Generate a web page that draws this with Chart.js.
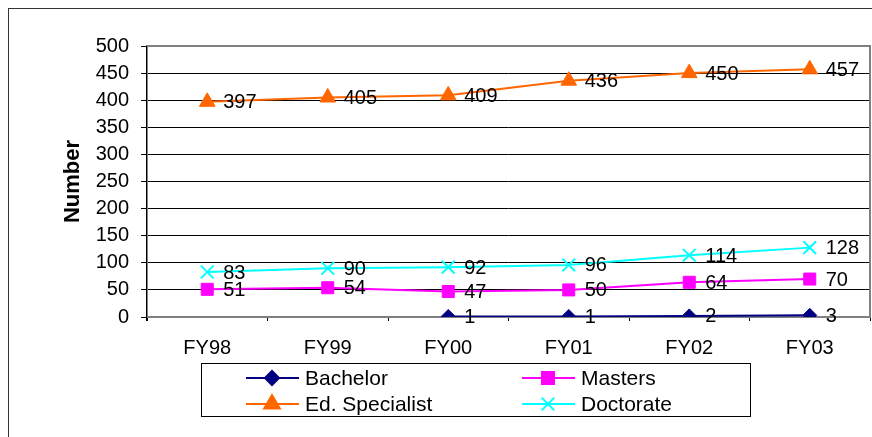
<!DOCTYPE html>
<html>
<head>
<meta charset="utf-8">
<script src="https://cdn.jsdelivr.net/npm/chart.js"></script>
<style>
	html, body { margin: 0; padding: 0; background: #fff; overflow: hidden; }
	canvas { display: block; }
</style>
</head>
<body>
<canvas id="chart_degrees" width="881" height="437"></canvas>
<script>
var years = ['FY98', 'FY99', 'FY00', 'FY01', 'FY02', 'FY03'];
var bachelor = [null, null, 1, 1, 2, 3];
var masters = [51, 54, 47, 50, 64, 70];
var edSpecialist = [397, 405, 409, 436, 450, 457];
var doctorate = [83, 90, 92, 96, 114, 128];

var FONT = "'Liberation Sans', Arial, sans-serif";

// values written to the right of each point
var valueLabels = {
	id: 'valueLabels',
	afterDatasetsDraw: function(chart){
		var ctx = chart.ctx;
		ctx.save();
		ctx.font = '20px ' + FONT;
		ctx.fillStyle = '#000';
		ctx.textAlign = 'left';
		ctx.textBaseline = 'middle';
		chart.data.datasets.forEach(function(ds, i){
			var meta = chart.getDatasetMeta(i);
			meta.data.forEach(function(pt, j){
				if(ds.data[j] == null) return;
				ctx.fillText(ds.data[j], pt.x + 16, pt.y + 1);
			});
		});
		ctx.restore();
	}
};

// gray plot frame
var plotFrame = {
	id: 'plotFrame',
	beforeDatasetsDraw: function(chart){
		var a = chart.chartArea, ctx = chart.ctx;
		ctx.save();
		ctx.strokeStyle = '#808080';
		ctx.lineWidth = 2;
		ctx.strokeRect(a.left, a.top, a.right - a.left, a.bottom - a.top);
		ctx.strokeStyle = '#000';
		ctx.lineWidth = 1;
		ctx.beginPath();
		ctx.moveTo(a.left - 0.5, a.top);
		ctx.lineTo(a.left - 0.5, a.bottom + 4);
		ctx.stroke();
		ctx.restore();
	}
};

// boxed legend, two columns, plus outer border
var boxLegend = {
	id: 'boxLegend',
	afterDraw: function(chart){
		var ctx = chart.ctx;
		ctx.save();
		ctx.strokeStyle = '#333';
		ctx.lineWidth = 1;
		ctx.strokeRect(8.5, 8.5, 900, 500);
		ctx.strokeStyle = '#000';
		ctx.strokeRect(201.5, 363.5, 549, 53);
		var cols = [246, 522];
		var rows = [378, 404];
		ctx.font = '21px ' + FONT;
		ctx.textBaseline = 'middle';
		ctx.textAlign = 'left';
		chart.data.datasets.forEach(function(ds, i){
			var x = cols[i % 2], y = rows[Math.floor(i / 2)];
			ctx.strokeStyle = ds.borderColor;
			ctx.fillStyle = ds.backgroundColor;
			ctx.lineWidth = 2;
			ctx.beginPath();
			ctx.moveTo(x, y);
			ctx.lineTo(x + 53, y);
			ctx.stroke();
			Chart.helpers.drawPoint(ctx, {
				pointStyle: ds.pointStyle,
				radius: ds.pointRadius,
				rotation: 0,
				borderWidth: ds.pointBorderWidth
			}, x + 26, y);
			ctx.fillStyle = '#000';
			ctx.fillText(ds.label, x + 59, y + 1);
		});
		ctx.restore();
	}
};

var ctx_d = document.getElementById('chart_degrees').getContext('2d');

var chart_d = new Chart(ctx_d, {
	type: 'line',
	data: {
		labels: years,
		datasets: [
		{
			label: 'Bachelor',
			data: bachelor,
			borderColor: '#000080',
			backgroundColor: '#000080',
			borderWidth: 2,
			pointStyle: 'rectRot',
			pointRadius: 7,
			pointBorderWidth: 1,
		},
		{
			label: 'Masters',
			data: masters,
			borderColor: '#ff00ff',
			backgroundColor: '#ff00ff',
			borderWidth: 2,
			pointStyle: 'rect',
			pointRadius: 8.5,
			pointBorderWidth: 1,
		},
		{
			label: 'Ed. Specialist',
			data: edSpecialist,
			borderColor: '#ff6600',
			backgroundColor: '#ff6600',
			borderWidth: 2,
			pointStyle: 'triangle',
			pointRadius: 9,
			pointBorderWidth: 1,
		},
		{
			label: 'Doctorate',
			data: doctorate,
			borderColor: '#00ffff',
			backgroundColor: '#00ffff',
			borderWidth: 2,
			pointStyle: 'crossRot',
			pointRadius: 9,
			pointBorderWidth: 2,
		}]
	},
	options: {
		responsive: false,
		animation: false,
		spanGaps: false,
		layout: { padding: { left: 0, top: 46, right: 10, bottom: 80 } },
		plugins: {
			legend: { display: false },
			tooltip: { enabled: false }
		},
		scales: {
			x: {
				offset: true,
				grid: { offset: true, drawOnChartArea: false, tickLength: 4, color: '#000' },
				border: { display: false },
				ticks: { font: { family: FONT, size: 20 }, color: '#000', padding: 15 },
				afterFit: function(s){
					s.height = 40;
					s.paddingLeft = 0;
					s.paddingRight = 0;
				}
			},
			y: {
				min: 0,
				max: 500,
				ticks: { stepSize: 50, font: { family: FONT, size: 20 }, color: '#000', padding: 12 },
				grid: { color: '#000', tickLength: 6 },
				border: { display: false },
				title: {
					display: true,
					text: 'Number',
					font: { family: FONT, size: 22, weight: 'bold' },
					color: '#000',
					padding: { top: 60, bottom: 0 }
				},
				afterFit: function(s){
					s.width = 147;
					s.paddingLeft = 0;
					s.paddingRight = 0;
				}
			}
		}
	},
	plugins: [plotFrame, valueLabels, boxLegend]
});
</script>
</body>
</html>
